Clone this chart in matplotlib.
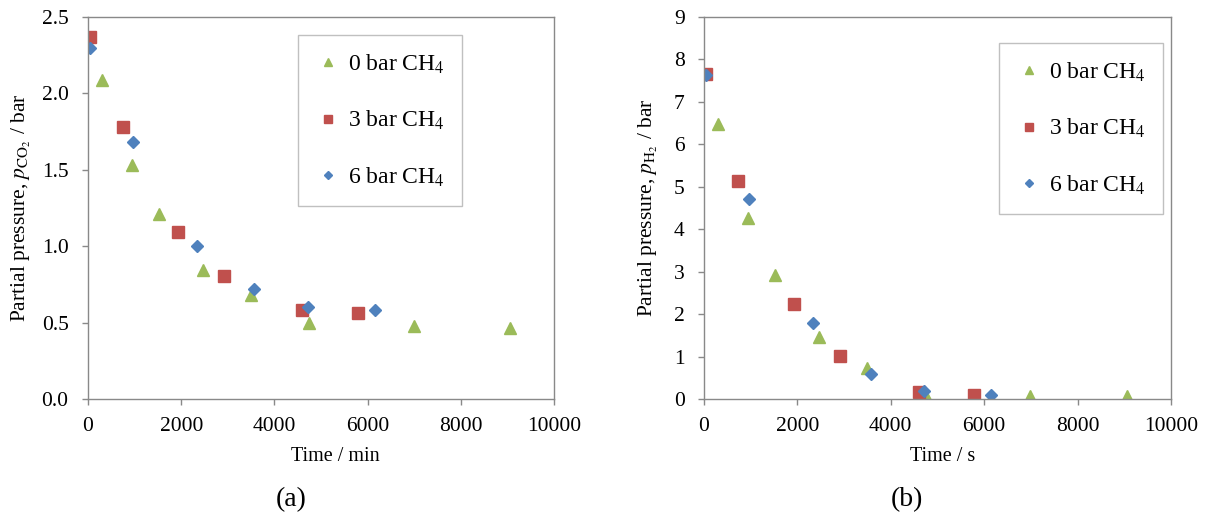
import matplotlib
matplotlib.use('Agg')
import matplotlib.pyplot as plt

plt.rcParams['font.family'] = ['Liberation Serif', 'DejaVu Serif']
plt.rcParams['mathtext.fontset'] = 'stix'

# (a) CO2 partial pressure vs time / min
t_a_0 = [300, 940, 1530, 2470, 3500, 4740, 7000, 9060]
p_a_0 = [2.09, 1.53, 1.21, 0.845, 0.68, 0.495, 0.48, 0.465]
t_a_3 = [36, 744, 1930, 2925, 4590, 5790]
p_a_3 = [2.37, 1.78, 1.09, 0.807, 0.582, 0.565]
t_a_6 = [43, 958, 2332, 3570, 4728, 6160]
p_a_6 = [2.30, 1.68, 1.00, 0.718, 0.60, 0.585]

# (b) H2 partial pressure vs time / s
t_b_0 = [300, 943, 1528, 2463, 3490, 4755, 6990, 9055]
p_b_0 = [6.48, 4.26, 2.92, 1.45, 0.72, 0.08, 0.07, 0.06]
t_b_3 = [36, 728, 1927, 2920, 4595, 5780]
p_b_3 = [7.66, 5.14, 2.23, 1.02, 0.16, 0.09]
t_b_6 = [36, 957, 2334, 3578, 4720, 6145]
p_b_6 = [7.64, 4.71, 1.78, 0.60, 0.20, 0.09]

labels = ['0 bar CH$_4$', '3 bar CH$_4$', '6 bar CH$_4$']
green = '#9BBB59'
red = '#C0504D'
blue = '#4F81BD'
axis_col = '#898989'

fig = plt.figure(figsize=(12.1, 5.15), dpi=100)
ax1 = fig.add_axes([88/1210, 116/515, 466/1210, 382/515])
ax2 = fig.add_axes([704/1210, 116/515, 467/1210, 382/515])


def style(ax):
    for s in ax.spines.values():
        s.set_color(axis_col)
        s.set_linewidth(1.0)
    ax.tick_params(direction='out', length=4.5, width=1.0, color=axis_col,
                   labelsize=15.5)
    ax.tick_params(axis='y', pad=9.5)
    ax.tick_params(axis='x', pad=8.5)


ax1.plot(t_a_0, p_a_0, '^', color=green, ms=8, label=labels[0])
ax1.plot(t_a_3, p_a_3, 's', color=red, ms=8, label=labels[1])
ax1.plot(t_a_6, p_a_6, 'D', color=blue, ms=6, label=labels[2])
ax1.set_xlim(0, 10000)
ax1.set_ylim(0, 2.5)
ax1.set_xticks([0, 2000, 4000, 6000, 8000, 10000])
ax1.set_yticks([0, 0.5, 1.0, 1.5, 2.0, 2.5])
ax1.set_yticklabels(['0.0', '0.5', '1.0', '1.5', '2.0', '2.5'])
ax1.set_xlabel('Time / min', fontsize=14.5)
ax1.xaxis.set_label_coords(0.53, -0.126)
ax1.set_ylabel('Partial pressure, $p_{\\mathrm{CO_2}}$ / bar', fontsize=15.5)
ax1.yaxis.set_label_coords(-0.118, 0.5)
style(ax1)

ax2.plot(t_b_0, p_b_0, '^', color=green, ms=8, label=labels[0])
ax2.plot(t_b_3, p_b_3, 's', color=red, ms=8, label=labels[1])
ax2.plot(t_b_6, p_b_6, 'D', color=blue, ms=6, label=labels[2])
ax2.set_xlim(0, 10000)
ax2.set_ylim(0, 9)
ax2.set_xticks([0, 2000, 4000, 6000, 8000, 10000])
ax2.set_yticks(range(10))
ax2.set_xlabel('Time / s', fontsize=14.5)
ax2.xaxis.set_label_coords(0.51, -0.126)
ax2.set_ylabel('Partial pressure, $p_{\\mathrm{H_2}}$ / bar', fontsize=15.5)
ax2.yaxis.set_label_coords(-0.094, 0.5)
style(ax2)

# legend boxes placed like the Excel originals
for ax, anchor in [(ax1, ((298-88)/466, (399-35)/382)),
                   (ax2, ((999-704)/467, (399-43)/382))]:
    leg = ax.legend(loc='upper left', bbox_to_anchor=anchor, fontsize=17,
                    markerscale=0.7, labelspacing=1.4, borderpad=0.75,
                    borderaxespad=0, handletextpad=0.35, handlelength=1.0,
                    fancybox=False, framealpha=1)
    leg.get_frame().set_edgecolor('#C0C0C0')
    leg.get_frame().set_linewidth(1.0)

fig.text(291/1210, 1 - 500/515, '(a)', fontsize=20, ha='center', va='center')
fig.text(907/1210, 1 - 500/515, '(b)', fontsize=20, ha='center', va='center')

fig.savefig('out.png', dpi=100)
